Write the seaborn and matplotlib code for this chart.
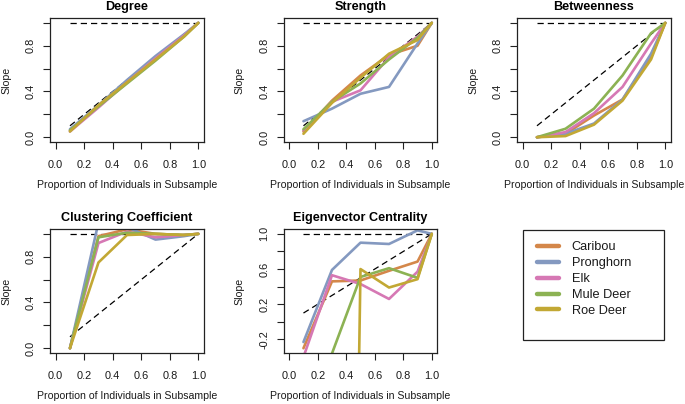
import matplotlib
matplotlib.use("Agg")
import matplotlib.pyplot as plt
from matplotlib.lines import Line2D
from matplotlib.patches import Rectangle
import numpy as np
import pandas as pd
import seaborn as sns

# ---------------- data ----------------
species = ["Caribou", "Pronghorn", "Elk", "Mule Deer", "Roe Deer"]
species_colors = ["#D4874A", "#8499C0", "#D678B4", "#8CB253", "#C2A834"]
proportion = [0.1, 0.3, 0.5, 0.7, 0.9, 1.0]

# rows follow the species order above
degree = [
    [0.06, 0.27, 0.48, 0.69, 0.89, 1.0],
    [0.07, 0.28, 0.50, 0.71, 0.90, 1.0],
    [0.05, 0.26, 0.48, 0.69, 0.89, 1.0],
    [0.06, 0.27, 0.47, 0.67, 0.88, 1.0],
    [0.05, 0.28, 0.48, 0.68, 0.88, 1.0],
]
strength = [
    [0.05, 0.32, 0.54, 0.72, 0.80, 1.0],
    [0.14, 0.25, 0.38, 0.44, 0.82, 1.0],
    [0.06, 0.31, 0.41, 0.70, 0.88, 1.0],
    [0.07, 0.31, 0.47, 0.68, 0.87, 1.0],
    [0.03, 0.30, 0.52, 0.73, 0.85, 1.0],
]
betweenness = [
    [0.00, 0.03, 0.19, 0.33, 0.70, 1.0],
    [0.00, 0.03, 0.12, 0.33, 0.73, 1.0],
    [0.00, 0.045, 0.21, 0.44, 0.82, 1.0],
    [0.00, 0.074, 0.25, 0.54, 0.91, 1.0],
    [0.00, 0.01, 0.11, 0.32, 0.68, 1.0],
]
clustering = [
    [0.00, 0.98, 1.04, 1.00, 0.99, 1.0],
    [0.00, 1.10, 1.06, 0.95, 0.98, 1.0],
    [0.00, 0.92, 1.02, 0.97, 0.99, 1.0],
    [0.00, 0.97, 1.01, 1.00, 0.99, 1.0],
    [0.00, 0.75, 0.99, 1.00, 0.99, 1.0],
]
eigenvector = [
    [-0.30, 0.46, 0.47, 0.58, 0.685, 1.0],
    [-0.23, 0.59, 0.90, 0.885, 1.04, 1.0],
    [-0.40, 0.53, 0.43, 0.26, 0.57, 1.0],
    [-0.80, -0.36, 0.51, 0.61, 0.50, 1.0],
    [-20.0, -20.0, 0.60, 0.39, 0.485, 1.0],
]

titles = ["Degree", "Strength", "Betweenness", "Clustering Coefficient",
          "Eigenvector Centrality"]
metric_values = [degree, strength, betweenness, clustering, eigenvector]

x_ticks = [0.0, 0.2, 0.4, 0.6, 0.8, 1.0]
x_ticklabels = ["0.0", "0.2", "0.4", "0.6", "0.8", "1.0"]
y_ticks_std = [0.0, 0.2, 0.4, 0.6, 0.8, 1.0]
y_labels_std = ["0.0", "", "0.4", "", "0.8", ""]
y_ticks_eig = [-0.2, 0.0, 0.2, 0.4, 0.6, 0.8, 1.0]
y_labels_eig = ["-0.2", "", "0.2", "", "0.6", "", "1.0"]

# ---------------- style ----------------
sns.set_style("ticks")
plt.rcParams["font.family"] = ["Liberation Sans", "DejaVu Sans"]
plt.rcParams["axes.linewidth"] = 0.9

W, H = 685, 404
fig = plt.figure(figsize=(W / 100, H / 100), dpi=100)

txt = "#1a1a1a"
col_left = [50, 283.5, 517]
row_top = [18.3, 229.3]
box_w, box_h = 154, 123.5

def make_ax(col, row):
    l = col_left[col]
    t = row_top[row]
    return fig.add_axes([l / W, 1 - (t + box_h) / H, box_w / W, box_h / H])

positions = [(0, 0), (1, 0), (2, 0), (0, 1), (1, 1)]

for i, (title, vals) in enumerate(zip(titles, metric_values)):
    ax = make_ax(*positions[i])
    rows = []
    for sp, series in zip(species, vals):
        for xv, yv in zip(proportion, series):
            rows.append({"Proportion": xv, "Slope": yv, "Species": sp})
    df = pd.DataFrame(rows)

    # reference lines (drawn first, underneath)
    ref = pd.DataFrame({"x": [0.1, 1.0], "y1": [1.0, 1.0], "y2": [0.1, 1.0]})
    sns.lineplot(data=ref, x="x", y="y1", ax=ax, color="black", lw=0.9,
                 linestyle=(0, (5, 3.2)), zorder=1)
    sns.lineplot(data=ref, x="x", y="y2", ax=ax, color="black", lw=0.9,
                 linestyle=(0, (5, 3.2)), zorder=1)

    sns.lineplot(data=df, x="Proportion", y="Slope", hue="Species",
                 hue_order=species, palette=species_colors, estimator=None,
                 sort=False, lw=1.9, ax=ax, legend=False, zorder=2)

    ax.set_xlim(-0.04, 1.04)
    if title == "Eigenvector Centrality":
        ax.set_ylim(-0.352, 1.052)
        ax.set_yticks(y_ticks_eig)
        ax.set_yticklabels(y_labels_eig)
    else:
        ax.set_ylim(-0.04, 1.04)
        ax.set_yticks(y_ticks_std)
        ax.set_yticklabels(y_labels_std)
    ax.set_xticks(x_ticks)
    ax.set_xticklabels(x_ticklabels)

    for s in ax.spines.values():
        s.set_visible(True)
        s.set_color("#222222")
        s.set_linewidth(0.9)
    ax.tick_params(axis="both", direction="out", length=5, width=0.8,
                   color="#222222", labelsize=7.9, labelcolor=txt)
    ax.tick_params(axis="x", pad=8)
    ax.tick_params(axis="y", pad=5)
    for lab in ax.get_yticklabels():
        lab.set_rotation(90)
        lab.set_va("center")

    ax.set_title(title, fontsize=9.1, fontweight="bold", color="black", pad=5.8)
    ax.set_xlabel("Proportion of Individuals in Subsample", fontsize=7.6,
                  color=txt, va="center")
    ax.set_ylabel("Slope", fontsize=7.6, color=txt, va="center")
    ax.xaxis.set_label_coords(0.5, -43 / box_h)
    ax.yaxis.set_label_coords(-44 / box_w, 0.5)

# ---------------- legend ----------------
handles = [Line2D([0], [0], color=c, lw=3.2, solid_capstyle="round")
           for c in species_colors]
leg = fig.legend(handles, species, loc="upper left",
                 bbox_to_anchor=(537 / W, 1 - 241.5 / H), borderaxespad=0,
                 borderpad=0, frameon=False, fontsize=9.2,
                 handlelength=1.72, handletextpad=1.0, labelspacing=0.3)
for t in leg.get_texts():
    t.set_color(txt)
fig.patches.append(Rectangle((523.3 / W, 1 - 340 / H), (664 - 523.3) / W,
                             (340 - 230) / H, transform=fig.transFigure,
                             fill=False, edgecolor="#222222", lw=0.9))

fig.savefig("out.png", dpi=100)
